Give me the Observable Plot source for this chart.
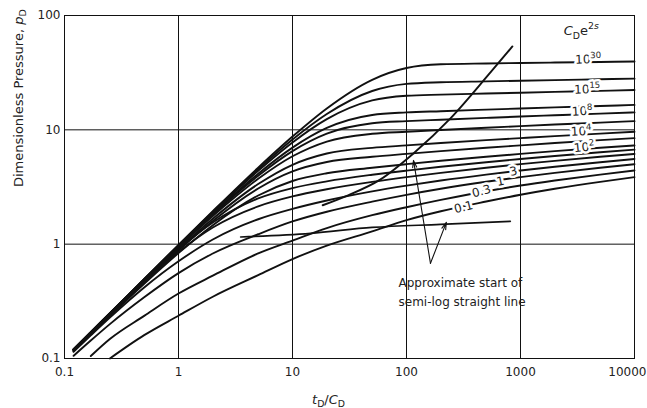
<!DOCTYPE html>
<html><head><meta charset="utf-8">
<script src="https://cdn.jsdelivr.net/npm/d3@7"></script>
<script src="https://cdn.jsdelivr.net/npm/@observablehq/plot@0.6"></script>
<style>html,body{margin:0;padding:0;background:#fff;} #chart svg{display:block}</style>
</head><body><div id="chart"></div>
<script>
// ---- data ----
const tD_CD = [0.12, 0.17, 0.25, 0.5, 1, 2, 5, 10, 20, 50, 100, 200, 500, 1000, 2000, 5000, 10000];
const curveNames = ["1e30","1e20","1e15","1e10","1e8","1e6","1e4","1e3","1e2","30","10","3","1","0.3","0.1"];
const c1e30 = [0.12, 0.17, 0.249, 0.496, 0.986, 1.943, 4.667, 8.73, 15.39, 27.38, 34.71, 37.41, 38.05, 38.4, 38.75, 39.2, 39.55];
const c1e20 = [0.12, 0.17, 0.249, 0.495, 0.979, 1.918, 4.518, 8.22, 13.75, 21.85, 25.21, 26.07, 26.54, 26.89, 27.24, 27.69, 28.04];
const c1e15 = [0.12, 0.17, 0.248, 0.493, 0.972, 1.894, 4.38, 7.76, 12.42, 18.09, 19.85, 20.32, 20.78, 21.13, 21.48, 21.93, 22.28];
const c1e10 = [0.12, 0.169, 0.247, 0.489, 0.960, 1.845, 4.135, 6.99, 10.39, 13.49, 14.2, 14.56, 15.02, 15.37, 15.72, 16.17, 16.52];
const c1e8  = [0.12, 0.169, 0.246, 0.487, 0.949, 1.812, 3.97, 6.52, 9.27, 11.42, 11.91, 12.26, 12.72, 13.07, 13.41, 13.87, 14.22];
const c1e6  = [0.119, 0.168, 0.245, 0.483, 0.935, 1.76, 3.73, 5.87, 7.90, 9.23, 9.62, 9.96, 10.42, 10.77, 11.12, 11.57, 11.92];
const c1e4  = [0.118, 0.1665, 0.2428, 0.474, 0.907, 1.669, 3.354, 4.945, 6.207, 6.96, 7.31, 7.66, 8.12, 8.46, 8.81, 9.27, 9.62];
const c1e3  = [0.1175, 0.1652, 0.2403, 0.466, 0.881, 1.592, 3.067, 4.329, 5.229, 5.81, 6.16, 6.51, 6.97, 7.31, 7.66, 8.12, 8.47];
const c1e2  = [0.1158, 0.1623, 0.235, 0.4505, 0.836, 1.467, 2.666, 3.57, 4.17, 4.66, 5.01, 5.36, 5.81, 6.16, 6.51, 6.97, 7.31];
const c30   = [0.1195, 0.1687, 0.2467, 0.482, 0.905, 1.549, 2.514, 3.096, 3.546, 4.046, 4.40, 4.754, 5.212, 5.559, 5.905, 6.363, 6.71];
const c10   = [0.1189, 0.1674, 0.2436, 0.468, 0.855, 1.40, 2.142, 2.616, 3.019, 3.503, 3.858, 4.205, 4.663, 5.01, 5.356, 5.814, 6.161];
const c3    = [0.1147, 0.1594, 0.228, 0.418, 0.708, 1.099, 1.652, 2.035, 2.41, 2.895, 3.25, 3.603, 4.061, 4.408, 4.754, 5.212, 5.559];
const c1    = [0.1055, 0.1436, 0.1999, 0.343, 0.558, 0.829, 1.221, 1.58, 1.921, 2.354, 2.699, 3.05, 3.512, 3.859, 4.205, 4.663, 5.01];
const c03   = [null, 0.105, 0.148, 0.236, 0.370, 0.530, 0.830, 1.074, 1.382, 1.792, 2.104, 2.437, 2.905, 3.257, 3.603, 4.061, 4.408];
const c01   = [null, null, 0.100, 0.160, 0.2366, 0.347, 0.536, 0.741, 0.971, 1.295, 1.623, 1.941, 2.359, 2.703, 3.05, 3.51, 3.86];
const seriesValues = [c1e30, c1e20, c1e15, c1e10, c1e8, c1e6, c1e4, c1e3, c1e2, c30, c10, c3, c1, c03, c01];

// approximate start of semi-log straight line
const startT = [18.4, 29.2, 59.2, 115, 243, 545, 849];
const startP = [2.19, 2.62, 3.69, 6.22, 12.6, 31.8, 53.6];
// lower marker line
const lowT = [3.51, 14.4, 50, 198.7, 814];
const lowP = [1.155, 1.245, 1.40, 1.49, 1.585];

// curve labels
const labelText = ["10^{30}", "10^{15}", "10^{8}", "10^{4}", "10^{2}", "3", "1", "0.3", "0.1"];
const labelT = [3930, 3853, 3483, 3413, 3625, 865, 666, 454, 316];
const labelP = [41.3, 22.6, 14.5, 9.69, 7.02, 4.33, 3.54, 2.90, 2.10];
const labelRot = [-2, -2, -3, -3, -6, -12, -12, -15, -14];

// arrows
const arrowFromT = [162.3, 162.3];
const arrowFromP = [0.68, 0.68];
const arrowToT = [115.2, 223.6];
const arrowToP = [5.40, 1.552];

const xTicks = [0.1, 1, 10, 100, 1000];
const xLastTick = [10000];
const yTicks = [0.1, 1, 10, 100];
const xGrid = [1, 10, 100, 1000];
const yGrid = [1, 10];

const noteText = "Approximate start of\nsemi-log straight line";
const groupTitle = "*{C}_{D}e^{2}^*{s}";
const xTitle = "*{t}_{D}/*{C}_{D}";
const yTitle = "Dimensionless Pressure, *{p}_{D}";

// ---- build tables ----
const rows = seriesValues.flatMap((vals, i) =>
  vals.map((p, j) => ({c: curveNames[i], t: tD_CD[j], p})).filter(d => d.p != null));
const startRows = startT.map((t, i) => ({t, p: startP[i]}));
const lowRows = lowT.map((t, i) => ({t, p: lowP[i]}));
const labels = labelText.map((s, i) => ({s, t: labelT[i], p: labelP[i], r: labelRot[i]}));
const arrows = arrowFromT.map((t, i) => ({t1: t, p1: arrowFromP[i], t2: arrowToT[i], p2: arrowToP[i]}));
const fmt = d => d < 1 ? String(d) : d3.format("d")(d);

const ink = "#111";
const chart = Plot.plot({
  width: 647, height: 408,
  marginLeft: 64, marginRight: 13, marginTop: 15, marginBottom: 50,
  x: {type: "log", domain: [0.1, 10000]},
  y: {type: "log", domain: [0.1, 100]},
  style: {fontFamily: "DejaVu Sans", fontSize: "12px", color: "#222", background: "white"},
  marks: [
    Plot.ruleX(xGrid, {stroke: "#111", strokeWidth: 1}),
    Plot.ruleY(yGrid, {stroke: "#111", strokeWidth: 1}),
    Plot.frame({stroke: "#111", strokeWidth: 1}),
    Plot.axisX({ticks: xTicks, tickSize: 0, tickPadding: 9, tickFormat: fmt, label: null, fontSize: 12}),
    Plot.axisX({ticks: xLastTick, tickSize: 0, tickPadding: 9, tickFormat: fmt, label: null, textAnchor: "end", dx: 12, fontSize: 12}),
    Plot.axisY({ticks: yTicks, tickSize: 0, tickPadding: 4, tickFormat: fmt, label: null, fontSize: 12}),
    Plot.line(rows, {x: "t", y: "p", z: "c", stroke: ink, strokeWidth: 1.9, curve: "monotone-x"}),
    Plot.line(startRows, {x: "t", y: "p", stroke: ink, strokeWidth: 1.9, curve: "monotone-x"}),
    Plot.line(lowRows, {x: "t", y: "p", stroke: ink, strokeWidth: 1.7, curve: "monotone-x"}),
    Plot.arrow(arrows, {x1: "t1", y1: "p1", x2: "t2", y2: "p2", stroke: ink, strokeWidth: 1.1, headLength: 10, headAngle: 32}),
    Plot.text(labels, {x: "t", y: "p", text: "s", rotate: "r", fill: "#222", stroke: "white", strokeWidth: 5, fontSize: 12}),
    Plot.text([noteText], {x: [85.1], y: [0.395], text: d => d, textAnchor: "start", lineAnchor: "middle", lineHeight: 1.55, fill: "#222", fontSize: 12}),
    Plot.text([groupTitle], {x: [3413], y: [73.9], text: d => d, fill: "#222", fontSize: 13}),
    Plot.text([xTitle], {frameAnchor: "bottom", text: d => d, lineAnchor: "bottom", dy: 45, dx: -21, fill: "#222", fontSize: 13}),
    Plot.text([yTitle], {frameAnchor: "left", text: d => d, rotate: -90, lineAnchor: "bottom", dx: -42, fill: "#222", fontSize: 13})
  ]
});

// simple rich-text markup: _{sub} ^{sup} *{italic}
function richify(svg) {
  svg.querySelectorAll("text").forEach(el => {
    const s = el.textContent;
    if (!/[_^*]+\{/.test(s)) return;
    const fs = parseFloat(el.getAttribute("font-size") || el.parentNode.getAttribute("font-size") || 12);
    while (el.firstChild) el.removeChild(el.firstChild);
    const re = /([_^*]+)\{([^}]*)\}|([^_^*{}]+)/g;
    let cur = 0, m;
    while ((m = re.exec(s))) {
      const flags = m[1] || "";
      const txt = m[1] ? m[2] : m[3];
      const ts = document.createElementNS("http://www.w3.org/2000/svg", "tspan");
      let off = 0;
      if (flags.includes("_")) { off = 0.3 * fs; ts.setAttribute("font-size", 0.72 * fs); }
      if (flags.includes("^")) { off = -0.42 * fs; ts.setAttribute("font-size", 0.72 * fs); }
      if (flags.includes("*")) ts.setAttribute("font-style", "italic");
      if (off !== cur) { ts.setAttribute("dy", off - cur); cur = off; }
      ts.textContent = txt;
      el.appendChild(ts);
    }
  });
}
richify(chart);
document.getElementById("chart").appendChild(chart);
</script></body></html>
